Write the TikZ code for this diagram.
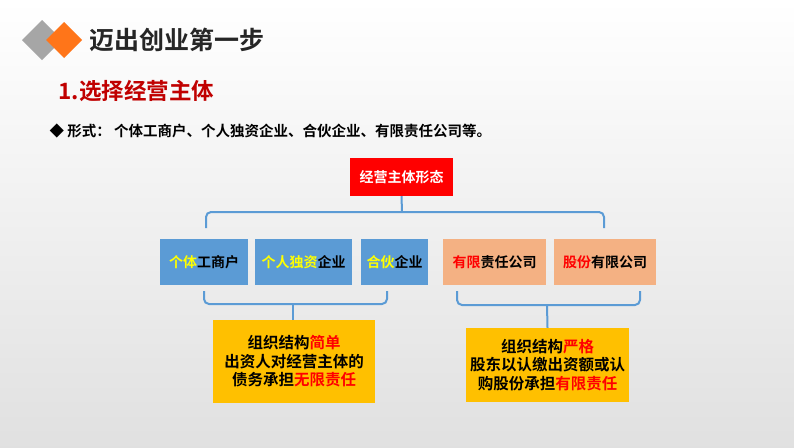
\documentclass[tikz,border=0pt]{standalone}
\usepackage{fontspec}
\setmainfont{Noto Sans CJK SC Bold}
\begin{document}
\begin{tikzpicture}[x=1pt,y=-1pt,
 box/.style={minimum height=46pt,inner sep=0pt,font=\fontsize{14}{15}\selectfont},
 blue/.style={box,fill=blueb},
 org/.style={box,fill=orgb},
 yel/.style={fill=yelb,inner sep=0pt,align=center,font=\fontsize{15.5}{18.5}\selectfont},
 br/.style={draw=brc,line width=2pt,rounded corners=5pt}]
\definecolor{blueb}{HTML}{5B9BD5}
\definecolor{orgb}{HTML}{F4B183}
\definecolor{yelb}{HTML}{FFC000}
\definecolor{brc}{HTML}{5B9BD5}
\definecolor{dred}{HTML}{C00000}
\definecolor{yt}{HTML}{FFFF00}
\shade[top color=white,bottom color=black!12] (0,0) rectangle (794,447);
\useasboundingbox (0,0) rectangle (794,447);
\fill[gray!70] (42,20) -- (62,40) -- (42,60) -- (22,40) -- cycle;
\fill[orange!80!red!90] (64,22) -- (82,40) -- (64,58) -- (46,40) -- cycle;
\node[anchor=west,font=\fontsize{25}{27}\selectfont,text=black!85] (t) at (86,40) {迈出创业第一步};
\node[anchor=west,font=\fontsize{22.5}{24}\selectfont,text=dred] (s) at (55,91) {1.选择经营主体};
\node[anchor=west,font=\fontsize{14.5}{16}\selectfont] (b) at (46,131) {◆ 形式： 个体工商户、个人独资企业、合伙企业、有限责任公司等。};
\node[fill=red,text=white,minimum width=103pt,minimum height=38pt,font=\fontsize{14}{15}\selectfont] (r) at (401.5,177) {经营主体形态};
\node[blue,minimum width=88pt] (a1) at (204,262) {\textcolor{yt}{个体}工商户};
\node[blue,minimum width=97pt] (a2) at (303.5,262) {\textcolor{yt}{个人独资}企业};
\node[blue,minimum width=67pt] (a3) at (394.5,262) {\textcolor{yt}{合伙}企业};
\node[org,minimum width=103pt] (a4) at (494.5,262) {\textcolor{red}{有限}责任公司};
\node[org,minimum width=102pt] (a5) at (605,262) {\textcolor{red}{股份}有限公司};
\node[yel,minimum width=162pt,minimum height=83pt] (y1) at (294,361.5) {组织结构\textcolor{red}{简单}\\出资人对经营主体的\\债务承担\textcolor{red}{无限责任}};
\node[yel,minimum width=163pt,minimum height=74pt] (y2) at (547.5,365) {组织结构\textcolor{red}{严格}\\股东以认缴出资额或认\\购股份承担\textcolor{red}{有限责任}};
\draw[br] (206,228) -- (206,212) -- (604,212) -- (604,228);
\draw[br] (r.south) -- (402,212);
\draw[br] (204,291) -- (204,304) -- (387,304) -- (387,291);
\draw[br] (293,304) -- (y1.north -| 293,0);
\draw[br] (457,291) -- (457,305) -- (640,305) -- (640,291);
\draw[br] (547,305) -- (y2.north);
\end{tikzpicture}
\end{document}
